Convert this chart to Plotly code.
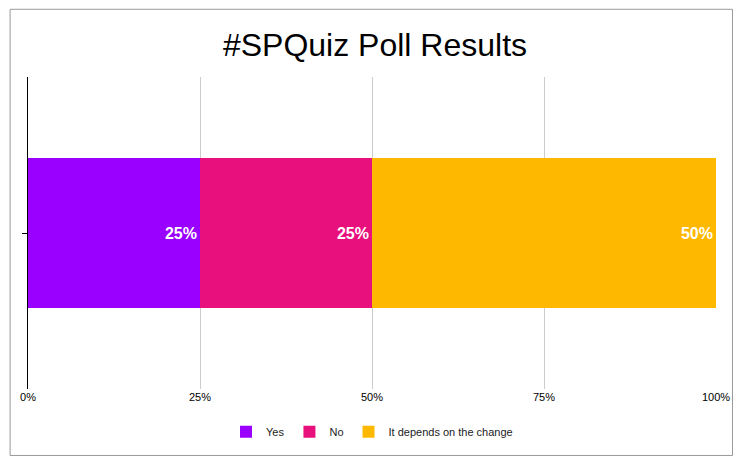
import plotly.graph_objects as go

# poll answers and shares
answers = ["Yes", "No", "It depends on the change"]
shares = [25, 25, 50]
colors = ["#9900ff", "#e8107d", "#ffb800"]
tick_vals = [0, 25, 50, 75, 100]
tick_text = ["0%", "25%", "50%", "75%", "100%"]

fig = go.Figure()
for name, val, col in zip(answers, shares, colors):
    fig.add_trace(go.Bar(
        x=[val], y=["poll"], name=name, orientation="h",
        marker=dict(color=col, line=dict(width=0)),
        text=[f"<b>{val}%</b>"], textposition="inside", insidetextanchor="end",
        textfont=dict(color="white", size=16, family="Arial, Liberation Sans, sans-serif"),
        hoverinfo="skip",
    ))

fig.update_layout(
    barmode="stack",
    bargap=0.52,
    width=734, height=450,
    paper_bgcolor="white", plot_bgcolor="white",
    font=dict(family="Arial, Liberation Sans, sans-serif", color="#222"),
    title=dict(text="#SPQuiz Poll Results", x=0.5, xanchor="center",
               y=0.918, yanchor="middle", font=dict(size=32, color="black")),
    margin=dict(l=19, r=18, t=69, b=68),
    showlegend=True,
    legend=dict(orientation="h", x=0.5, xanchor="center", y=-0.137, yanchor="middle",
                font=dict(size=11), traceorder="normal"),
)
fig.update_xaxes(range=[0, 100], tickvals=tick_vals, ticktext=tick_text,
                 showgrid=True, gridcolor="#cccccc", zeroline=False,
                 tickfont=dict(size=11, color="black"))
fig.update_yaxes(showticklabels=False, showline=True, linecolor="black",
                 ticks="outside", ticklen=5, tickcolor="black", showgrid=False)
fig.add_shape(type="rect", xref="paper", yref="paper",
              x0=-0.026, x1=1.024, y0=-0.213, y1=1.217,
              line=dict(color="#999999", width=1))

fig.write_html("out.html")
